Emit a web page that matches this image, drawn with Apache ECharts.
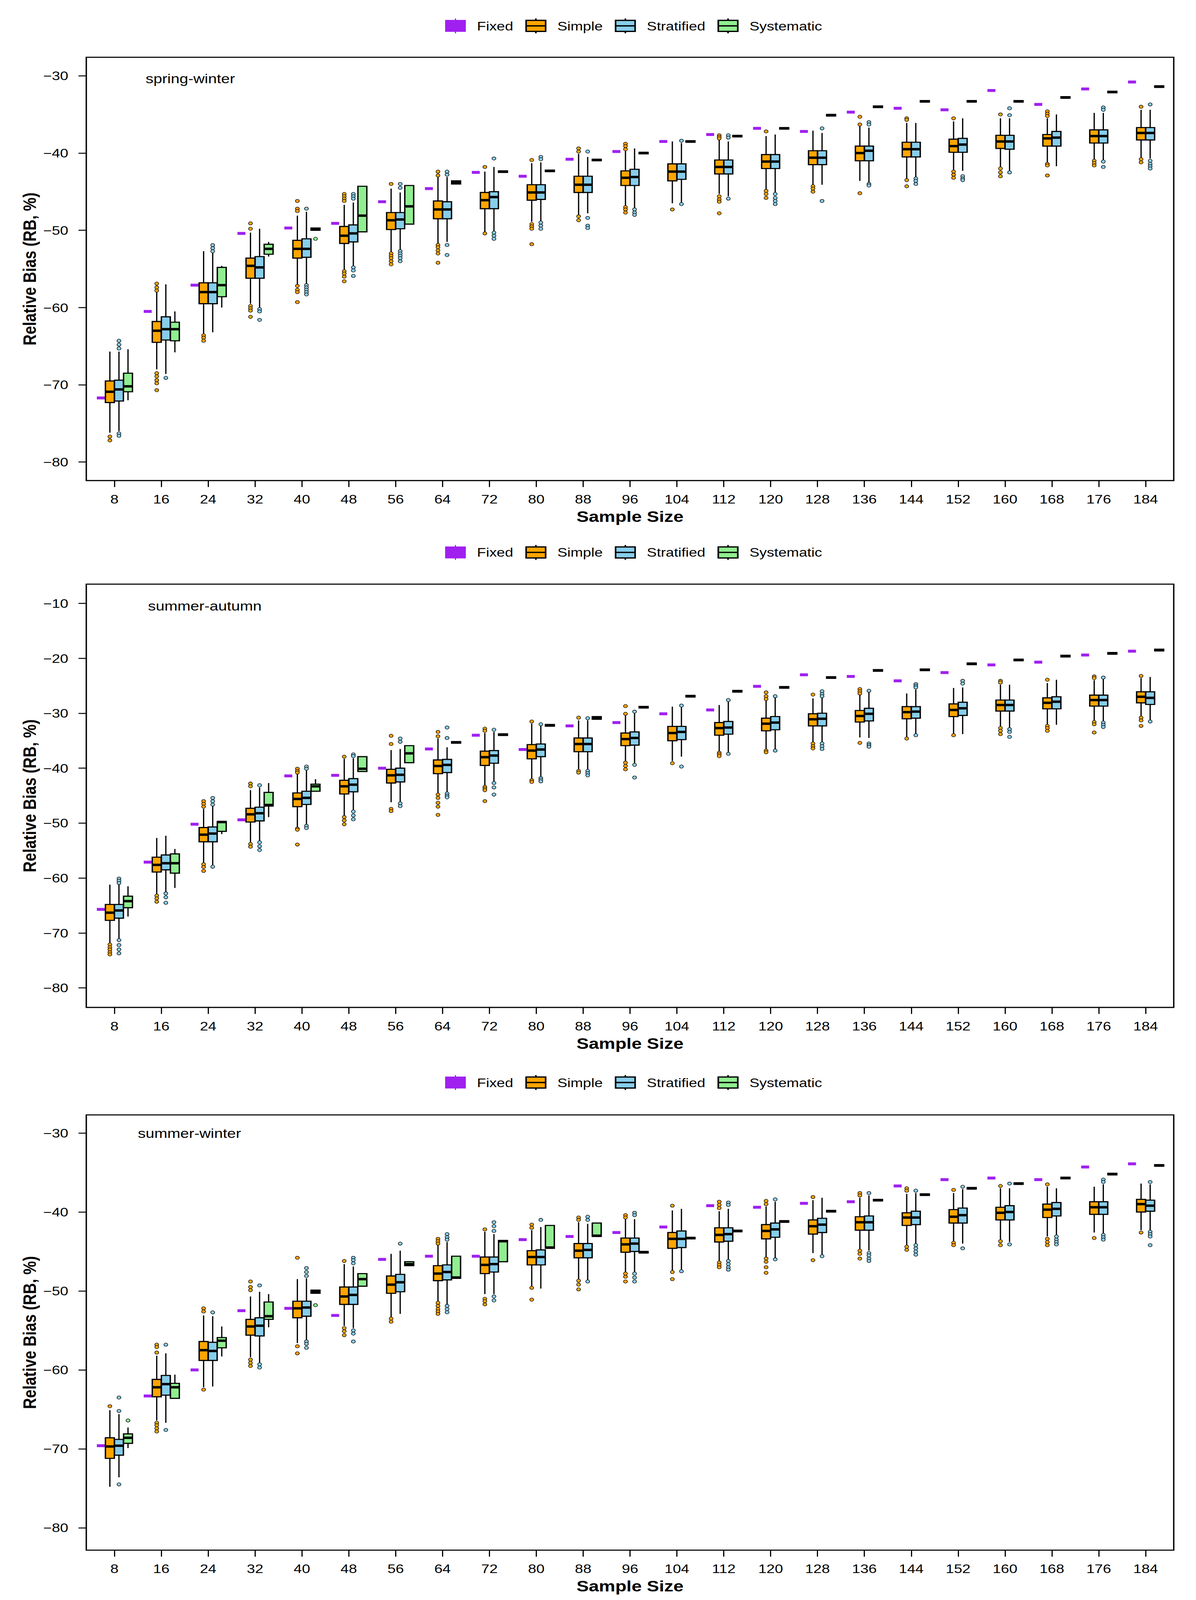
<!DOCTYPE html>
<html>
<head>
<meta charset="utf-8">
<title>Relative Bias by Sample Size</title>
<script src="https://cdn.jsdelivr.net/npm/echarts@6.0.0/dist/echarts.min.js"></script>
<style>
  html, body { margin: 0; padding: 0; background: #fff; overflow: hidden; }
  #chart { width: 3063px; height: 4944px; transform-origin: 0 0; }
</style>
</head>
<body>
<div id="chart"></div>
<script>
// categories and tick labels
const sampleSizes = [8, 16, 24, 32, 40, 48, 56, 64, 72, 80, 88, 96, 104, 112, 120, 128, 136, 144, 152, 160, 168, 176, 184];
const methods = ['Fixed', 'Simple', 'Stratified', 'Systematic'];
const panelNames = ['spring-winter', 'summer-autumn', 'summer-winter'];
const yTicksA = [-80, -70, -60, -50, -40, -30];
const yTicksB = [-80, -70, -60, -50, -40, -30, -20, -10];

// ---- panel 1: spring-winter ----  box rows are [min, q1, median, q3, max]
const p1Fixed = [-71.7, -60.5, -57.1, -50.4, -49.7, -49.1, -46.3, -44.6, -42.5, -43.0, -40.8, -39.8, -38.5, -37.6, -36.8, -37.2, -34.7, -34.2, -34.4, -31.9, -33.7, -31.7, -30.8];
const p1Simple = [
  [-76.2, -72.3, -70.9, -69.5, -65.7], [-68.0, -64.5, -63.0, -61.8, -58.0], [-63.4, -59.5, -58.0, -56.8, -52.7],
  [-59.5, -56.2, -54.6, -53.6, -50.3], [-57.0, -53.6, -52.4, -51.3, -48.1], [-55.1, -51.7, -50.7, -49.5, -46.7],
  [-52.9, -49.9, -48.7, -47.7, -44.6], [-51.7, -48.5, -47.3, -46.2, -43.1], [-50.2, -47.2, -46.1, -45.1, -42.4],
  [-48.9, -46.1, -45.1, -44.1, -41.3], [-48.0, -45.1, -44.1, -43.0, -40.1], [-46.8, -44.2, -43.2, -42.3, -39.6],
  [-46.5, -43.6, -42.4, -41.4, -38.5], [-45.3, -42.7, -41.8, -40.9, -38.2], [-44.7, -42.0, -41.1, -40.2, -37.8],
  [-44.2, -41.5, -40.6, -39.7, -37.1], [-43.6, -41.0, -40.0, -39.1, -36.5], [-43.3, -40.5, -39.5, -38.6, -36.1],
  [-42.2, -39.9, -39.1, -38.2, -35.9], [-41.8, -39.4, -38.5, -37.7, -35.5], [-41.2, -39.1, -38.1, -37.6, -35.5],
  [-40.9, -38.7, -37.8, -37.0, -34.8], [-40.6, -38.3, -37.4, -36.7, -34.4]
];
const p1Stratified = [
  [-76.0, -72.1, -70.6, -69.4, -65.7], [-68.6, -64.2, -62.8, -61.2, -57.0], [-63.2, -59.5, -58.0, -56.8, -52.9],
  [-60.0, -56.2, -54.8, -53.4, -49.8], [-56.9, -53.5, -52.4, -51.1, -47.6], [-54.6, -51.5, -50.4, -49.3, -46.4],
  [-52.5, -49.8, -48.6, -47.7, -45.1], [-51.5, -48.5, -47.3, -46.3, -43.1], [-50.1, -47.2, -45.7, -45.0, -41.8],
  [-48.8, -46.0, -45.1, -44.1, -41.2], [-47.8, -45.1, -44.1, -43.0, -40.5], [-47.1, -44.2, -43.1, -42.1, -39.4],
  [-46.4, -43.4, -42.4, -41.4, -38.7], [-45.6, -42.7, -41.8, -40.9, -38.5], [-45.1, -42.0, -41.1, -40.2, -37.6],
  [-44.1, -41.5, -40.6, -39.7, -37.4], [-43.8, -41.0, -39.7, -39.1, -36.7], [-43.1, -40.5, -39.5, -38.6, -36.1],
  [-42.3, -39.9, -38.9, -38.1, -35.5], [-42.3, -39.5, -38.5, -37.7, -35.5], [-41.7, -39.1, -38.0, -37.2, -35.0],
  [-40.9, -38.7, -37.8, -37.0, -34.8], [-40.7, -38.3, -37.4, -36.7, -34.4]
];
const p1Systematic = [
  [-72.0, -70.9, -70.2, -68.5, -65.4], [-65.8, -64.3, -62.8, -61.9, -60.5], [-60.0, -58.6, -57.1, -54.8, -54.6],
  [-53.4, -53.1, -52.4, -51.8, -51.5], [-50.0, -50.0, -49.85, -49.7, -49.7], [-50.2, -50.2, -48.1, -44.3, -44.3],
  [-49.2, -49.2, -46.9, -44.2, -44.2], [-44.0, -44.0, -43.8, -43.6, -43.6], [-42.5, -42.5, -42.4, -42.3, -42.3],
  [-42.4, -42.4, -42.3, -42.2, -42.2], [-41.0, -41.0, -40.9, -40.8, -40.8], [-40.1, -40.1, -40.0, -39.9, -39.9],
  [-38.6, -38.6, -38.5, -38.4, -38.4], [-37.9, -37.9, -37.8, -37.7, -37.7], [-36.9, -36.9, -36.8, -36.7, -36.7],
  [-35.2, -35.2, -35.1, -35.0, -35.0], [-34.1, -34.1, -34.0, -33.9, -33.9], [-33.4, -33.4, -33.3, -33.2, -33.2],
  [-33.4, -33.4, -33.3, -33.2, -33.2], [-33.4, -33.4, -33.3, -33.2, -33.2], [-32.9, -32.9, -32.8, -32.7, -32.7],
  [-32.2, -32.2, -32.1, -32.0, -32.0], [-31.5, -31.5, -31.4, -31.3, -31.3]
];
const p1SimpleOut = [
  [8, -76.7], [8, -77.2], [16, -56.9], [16, -57.4], [16, -57.8], [16, -68.5], [16, -68.9], [16, -69.4], [16, -69.8], [16, -70.7],
  [24, -63.6], [24, -63.9], [24, -64.3], [32, -49.1], [32, -49.8], [32, -59.8], [32, -60.1], [32, -60.4], [32, -61.2],
  [40, -46.2], [40, -47.2], [40, -47.5], [40, -57.2], [40, -57.7], [40, -58.0], [40, -59.3],
  [48, -45.3], [48, -45.6], [48, -45.9], [48, -46.2], [48, -55.3], [48, -55.6], [48, -56.0], [48, -56.6],
  [56, -44.0], [56, -53.0], [56, -53.3], [56, -53.6], [56, -54.0], [56, -54.4],
  [64, -42.4], [64, -42.9], [64, -51.9], [64, -52.2], [64, -52.6], [64, -53.0], [64, -54.2],
  [72, -41.8], [72, -50.4], [80, -40.9], [80, -49.2], [80, -49.5], [80, -49.8], [80, -51.8],
  [88, -39.4], [88, -39.8], [88, -48.2], [88, -48.7], [96, -38.8], [96, -39.1], [96, -39.5], [96, -47.0], [96, -47.3], [96, -47.7],
  [104, -47.3], [112, -37.7], [112, -37.9], [112, -38.1], [112, -45.6], [112, -46.0], [112, -46.3], [112, -47.8],
  [120, -37.2], [120, -44.9], [120, -45.3], [120, -45.8], [128, -44.3], [128, -44.6], [128, -45.0],
  [136, -35.3], [136, -36.3], [136, -45.2], [144, -35.5], [144, -35.7], [144, -43.5], [144, -44.3],
  [152, -35.5], [152, -42.4], [152, -42.8], [152, -43.2], [160, -35.0], [160, -42.0], [160, -42.5], [160, -43.0],
  [168, -34.6], [168, -34.9], [168, -35.2], [168, -41.4], [168, -41.6], [168, -42.9],
  [176, -41.0], [176, -41.3], [176, -41.6], [184, -34.0], [184, -40.8], [184, -41.2]
];
const p1StratifiedOut = [
  [8, -64.3], [8, -64.8], [8, -65.3], [8, -76.3], [8, -76.6], [16, -69.1], [24, -51.9], [24, -52.3], [24, -52.7],
  [32, -60.2], [32, -60.5], [32, -61.6], [40, -47.2], [40, -57.1], [40, -57.4], [40, -57.7], [40, -58.0], [40, -58.3],
  [48, -45.3], [48, -45.6], [48, -45.9], [48, -54.8], [48, -55.2], [48, -55.9],
  [56, -44.0], [56, -44.5], [56, -52.7], [56, -53.0], [56, -53.3], [56, -53.6], [56, -54.0],
  [64, -42.4], [64, -42.8], [64, -51.9], [64, -53.2], [72, -40.7], [72, -50.3], [72, -50.7], [72, -51.1],
  [80, -40.5], [80, -40.8], [80, -49.0], [80, -49.4], [80, -49.8], [88, -39.8], [88, -48.4], [88, -49.4], [88, -49.7],
  [96, -47.3], [96, -47.7], [96, -48.0], [104, -38.4], [104, -46.6], [112, -37.7], [112, -38.0], [112, -45.9],
  [120, -45.3], [120, -45.8], [120, -46.2], [120, -46.6], [128, -36.8], [128, -46.2],
  [136, -36.0], [136, -36.3], [136, -44.0], [136, -44.2], [144, -43.3], [144, -43.6], [144, -44.0],
  [152, -43.0], [152, -43.3], [152, -43.5], [160, -34.2], [160, -35.1], [160, -42.5],
  [176, -34.1], [176, -34.4], [176, -41.1], [176, -41.8], [184, -33.7], [184, -41.0], [184, -41.4], [184, -41.7], [184, -42.0]
];
const p1SystematicOut = [[40, -51.1]];

// ---- panel 2: summer-autumn ----
const p2Fixed = [-65.7, -57.1, -50.2, -49.4, -41.4, -41.3, -40.0, -36.5, -34.0, -36.6, -32.3, -31.7, -30.1, -29.4, -25.1, -23.0, -23.3, -24.1, -22.6, -21.2, -20.7, -19.4, -18.7];
const p2Simple = [
  [-71.8, -67.7, -66.3, -64.8, -61.2], [-62.9, -58.9, -57.6, -56.2, -52.7], [-57.2, -53.4, -52.1, -50.8, -47.4],
  [-53.5, -49.8, -48.4, -47.3, -44.0], [-50.7, -47.0, -45.6, -44.5, -41.1], [-48.6, -44.7, -43.3, -42.2, -38.3],
  [-46.2, -42.7, -41.3, -40.2, -36.7], [-44.5, -41.0, -39.6, -38.5, -34.6], [-43.1, -39.5, -38.0, -36.9, -33.6],
  [-42.0, -38.3, -36.8, -35.7, -31.9], [-40.2, -37.0, -35.6, -34.5, -31.3], [-38.8, -35.9, -34.7, -33.6, -30.4],
  [-38.7, -35.0, -33.6, -32.4, -28.8], [-37.0, -34.0, -32.7, -31.7, -28.5], [-36.6, -33.2, -31.9, -30.9, -27.7],
  [-35.3, -32.3, -31.1, -30.1, -27.3], [-34.4, -31.6, -30.5, -29.5, -26.6], [-34.3, -31.0, -29.8, -28.8, -26.4],
  [-33.8, -30.6, -29.4, -28.3, -25.4], [-32.4, -29.6, -28.5, -27.6, -24.8], [-32.1, -29.2, -28.1, -27.2, -24.5],
  [-31.3, -28.7, -27.6, -26.7, -24.0], [-30.6, -28.1, -27.0, -26.1, -23.6]
];
const p2Stratified = [
  [-71.0, -67.3, -65.9, -64.8, -61.1], [-62.6, -58.5, -57.3, -55.8, -52.3], [-57.6, -53.4, -51.9, -50.7, -46.9],
  [-53.3, -49.6, -48.2, -47.1, -43.5], [-50.3, -46.6, -45.4, -44.2, -40.4], [-47.7, -44.3, -43.0, -41.9, -38.2],
  [-46.2, -42.5, -41.2, -40.0, -36.5], [-44.4, -40.8, -39.4, -38.4, -36.2], [-42.5, -39.1, -37.7, -36.8, -33.4],
  [-41.6, -37.9, -36.6, -35.6, -32.3], [-40.2, -37.0, -35.6, -34.5, -31.3], [-39.2, -35.8, -34.5, -33.4, -30.0],
  [-37.9, -34.8, -33.4, -32.4, -28.9], [-37.1, -33.8, -32.6, -31.5, -27.9], [-36.6, -33.0, -31.7, -30.6, -27.2],
  [-35.3, -32.3, -31.0, -30.0, -27.1], [-34.5, -31.4, -30.1, -29.1, -26.1], [-33.8, -30.9, -29.7, -28.8, -25.7],
  [-33.8, -30.4, -29.1, -28.0, -25.3], [-32.6, -29.6, -28.5, -27.6, -24.8], [-32.1, -29.2, -27.9, -27.0, -23.9],
  [-31.5, -28.7, -27.6, -26.7, -23.8], [-31.3, -28.4, -27.2, -26.1, -23.4]
];
const p2Systematic = [
  [-67.0, -65.4, -64.2, -63.3, -61.5], [-61.8, -59.1, -57.3, -55.6, -54.7], [-52.0, -51.5, -49.8, -49.7, -49.7],
  [-48.9, -46.9, -46.7, -44.4, -42.7], [-44.2, -44.2, -43.3, -42.9, -42.0], [-40.6, -40.6, -40.1, -37.9, -37.9],
  [-39.0, -39.0, -37.3, -35.9, -35.9], [-35.45, -35.45, -35.3, -35.15, -35.15], [-34.05, -34.05, -33.9, -33.75, -33.75],
  [-32.35, -32.35, -32.2, -32.05, -32.05], [-31.1, -31.1, -30.9, -30.6, -30.6], [-29.05, -29.05, -28.9, -28.75, -28.75],
  [-27.05, -27.05, -26.9, -26.75, -26.75], [-26.15, -26.15, -26.0, -25.85, -25.85], [-25.45, -25.45, -25.3, -25.15, -25.15],
  [-23.65, -23.65, -23.5, -23.35, -23.35], [-22.35, -22.35, -22.2, -22.05, -22.05], [-22.25, -22.25, -22.1, -21.95, -21.95],
  [-21.15, -21.15, -21.0, -20.85, -20.85], [-20.45, -20.45, -20.3, -20.15, -20.15], [-19.75, -19.75, -19.6, -19.45, -19.45],
  [-19.25, -19.25, -19.1, -18.95, -18.95], [-18.65, -18.65, -18.5, -18.35, -18.35]
];
const p2SimpleOut = [
  [8, -72.1], [8, -72.6], [8, -73.0], [8, -73.5], [8, -73.9], [16, -63.2], [16, -63.7], [16, -64.3],
  [24, -46.0], [24, -46.5], [24, -47.0], [24, -57.5], [24, -58.0], [24, -58.7], [32, -42.8], [32, -43.3], [32, -53.8], [32, -54.3],
  [40, -40.1], [40, -40.5], [40, -40.8], [40, -51.0], [40, -51.2], [40, -53.9], [48, -37.9], [48, -48.9], [48, -49.5], [48, -50.2],
  [56, -34.1], [56, -35.6], [56, -47.4], [56, -47.8], [64, -33.4], [64, -34.2], [64, -44.8], [64, -45.4], [64, -46.3], [64, -47.0], [64, -48.5],
  [72, -32.8], [72, -33.2], [72, -43.4], [72, -43.7], [72, -44.0], [72, -46.0], [80, -31.5], [80, -42.2], [80, -42.5],
  [88, -30.8], [88, -40.5], [88, -40.8], [96, -28.7], [96, -30.1], [96, -39.0], [96, -39.6], [96, -40.2], [104, -39.1],
  [112, -37.2], [112, -37.5], [112, -37.8], [120, -26.2], [120, -26.9], [120, -27.4], [120, -36.8], [120, -37.1],
  [128, -26.6], [128, -35.5], [128, -36.0], [128, -36.4], [136, -25.6], [136, -26.0], [136, -26.4], [136, -35.4],
  [144, -34.6], [152, -34.0], [160, -24.1], [160, -24.4], [160, -32.7], [160, -33.2], [160, -33.8],
  [168, -23.9], [168, -32.3], [168, -32.7], [168, -33.2], [176, -23.3], [176, -23.6], [176, -31.6], [176, -32.0], [176, -33.5],
  [184, -23.2], [184, -30.8], [184, -31.3], [184, -32.3]
];
const p2StratifiedOut = [
  [8, -60.1], [8, -60.5], [8, -60.9], [8, -71.3], [8, -72.2], [8, -73.0], [8, -73.7], [16, -62.8], [16, -63.5], [16, -64.5],
  [24, -45.4], [24, -46.0], [24, -46.6], [24, -57.9], [32, -43.1], [32, -53.5], [32, -54.2], [32, -54.9],
  [40, -39.7], [40, -40.1], [40, -50.5], [40, -50.9], [48, -37.5], [48, -37.8], [48, -47.9], [48, -48.6], [48, -49.3],
  [56, -34.6], [56, -35.2], [56, -46.4], [56, -46.9], [64, -32.6], [64, -34.5], [64, -44.6], [64, -45.0], [64, -45.3],
  [72, -33.0], [72, -42.7], [72, -43.5], [72, -44.8], [80, -32.0], [80, -41.8], [80, -42.1], [80, -42.4],
  [88, -30.9], [88, -40.5], [88, -40.9], [88, -41.3], [96, -29.7], [96, -39.4], [96, -41.7], [104, -28.6], [104, -39.7],
  [112, -27.6], [112, -37.4], [120, -26.9], [120, -36.8], [128, -26.0], [128, -26.5], [128, -26.9], [128, -35.5], [128, -36.0], [128, -36.5],
  [136, -25.9], [136, -35.5], [136, -35.8], [136, -36.1], [144, -24.7], [144, -25.0], [144, -25.3], [144, -34.0],
  [152, -24.1], [152, -24.6], [160, -32.9], [160, -33.4], [160, -34.3], [176, -23.5], [176, -31.7], [176, -32.1], [176, -32.5], [184, -31.5]
];
const p2SystematicOut = [];

// ---- panel 3: summer-winter ----
const p3Fixed = [-69.6, -63.3, -60.0, -52.5, -52.2, -53.1, -46.0, -45.6, -45.6, -43.5, -43.1, -42.6, -41.9, -39.2, -39.4, -38.9, -38.7, -36.7, -35.9, -35.7, -35.9, -34.3, -33.9];
const p3Simple = [
  [-74.8, -71.2, -69.7, -68.6, -65.1], [-66.4, -63.4, -62.2, -61.2, -58.2], [-62.2, -58.8, -57.5, -56.4, -53.1],
  [-58.4, -55.6, -54.5, -53.6, -50.7], [-56.6, -53.4, -52.2, -51.3, -48.5], [-54.4, -51.7, -50.7, -49.5, -46.6],
  [-53.3, -50.3, -49.2, -48.1, -45.3], [-51.3, -48.7, -47.8, -46.8, -44.2], [-50.4, -47.8, -46.7, -45.7, -42.5],
  [-49.4, -46.7, -45.7, -44.9, -42.3], [-48.5, -45.8, -44.9, -44.0, -41.3], [-47.6, -45.1, -44.1, -43.3, -40.9],
  [-47.4, -44.6, -43.4, -42.6, -39.8], [-46.2, -43.8, -42.9, -42.0, -39.9], [-45.7, -43.4, -42.4, -41.6, -39.3],
  [-45.2, -42.8, -41.8, -41.0, -38.5], [-44.7, -42.3, -41.3, -40.6, -38.2], [-44.2, -41.7, -40.7, -40.1, -37.7],
  [-43.7, -41.4, -40.6, -39.7, -37.6], [-43.5, -41.0, -40.1, -39.4, -37.0], [-43.1, -40.7, -39.7, -39.0, -36.8],
  [-42.6, -40.3, -39.4, -38.7, -36.8], [-42.3, -40.0, -39.0, -38.4, -36.4]
];
const p3Stratified = [
  [-73.6, -70.8, -69.6, -68.8, -65.6], [-66.7, -63.2, -61.8, -60.7, -57.9], [-62.1, -58.8, -57.6, -56.5, -53.2],
  [-59.1, -55.7, -54.4, -53.4, -50.1], [-56.2, -53.2, -52.1, -51.3, -48.4], [-54.7, -51.7, -50.5, -49.5, -46.9],
  [-52.9, -50.1, -48.9, -47.9, -44.9], [-51.7, -48.6, -47.6, -46.7, -43.8], [-50.4, -47.6, -46.6, -45.7, -42.8],
  [-49.7, -46.7, -45.7, -44.8, -41.9], [-48.6, -45.8, -44.8, -44.0, -41.5], [-47.6, -45.0, -44.0, -43.3, -40.9],
  [-47.3, -44.5, -43.4, -42.4, -39.6], [-46.0, -43.7, -42.8, -42.0, -39.6], [-45.8, -43.2, -42.2, -41.4, -38.7],
  [-45.4, -42.6, -41.6, -40.8, -38.2], [-44.9, -42.3, -41.3, -40.5, -37.9], [-44.0, -41.6, -40.7, -39.9, -37.6],
  [-44.0, -41.4, -40.4, -39.5, -37.1], [-43.8, -41.0, -40.0, -39.2, -37.0], [-42.9, -40.5, -39.6, -38.8, -37.0],
  [-42.7, -40.3, -39.4, -38.7, -36.5], [-42.3, -39.9, -39.2, -38.5, -36.5]
];
const p3Systematic = [
  [-69.9, -69.3, -68.6, -68.1, -67.3], [-63.6, -63.6, -62.2, -61.7, -60.6], [-58.3, -57.2, -56.3, -55.9, -54.5],
  [-54.6, -53.6, -53.2, -51.4, -50.4], [-50.3, -50.3, -50.1, -49.9, -49.9], [-49.4, -49.4, -48.5, -47.8, -47.8],
  [-46.8, -46.8, -46.6, -46.3, -46.3], [-48.4, -48.4, -48.3, -45.6, -45.6], [-46.3, -46.3, -43.7, -43.6, -43.6],
  [-44.6, -44.6, -44.5, -41.7, -41.7], [-43.1, -43.1, -43.0, -41.4, -41.4], [-45.2, -45.2, -45.1, -45.0, -45.0],
  [-43.4, -43.4, -43.3, -43.2, -43.2], [-42.5, -42.5, -42.4, -42.3, -42.3], [-41.3, -41.3, -41.2, -41.1, -41.1],
  [-40.0, -40.0, -39.9, -39.8, -39.8], [-38.6, -38.6, -38.5, -38.4, -38.4], [-37.9, -37.9, -37.8, -37.7, -37.7],
  [-37.1, -37.1, -37.0, -36.9, -36.9], [-36.5, -36.5, -36.4, -36.3, -36.3], [-35.8, -35.8, -35.7, -35.6, -35.6],
  [-35.3, -35.3, -35.2, -35.1, -35.1], [-34.2, -34.2, -34.1, -34.0, -34.0]
];
const p3SimpleOut = [
  [8, -64.6], [16, -56.8], [16, -57.1], [16, -57.8], [16, -66.7], [16, -67.0], [16, -67.4], [16, -67.8],
  [24, -52.2], [24, -52.6], [24, -62.5], [32, -48.8], [32, -49.5], [32, -49.9], [32, -58.7], [32, -59.1], [32, -59.5],
  [40, -45.8], [40, -57.0], [40, -57.9], [48, -46.2], [48, -54.7], [48, -55.1], [48, -55.6], [56, -53.5], [56, -53.9],
  [64, -43.4], [64, -43.7], [64, -44.0], [64, -51.5], [64, -51.9], [64, -52.3], [64, -52.6], [64, -52.9],
  [72, -42.2], [72, -51.0], [72, -51.3], [72, -51.7], [80, -41.6], [80, -42.0], [80, -49.6], [80, -51.1],
  [88, -40.7], [88, -41.0], [88, -48.7], [88, -49.2], [88, -49.8], [96, -40.4], [96, -40.7], [96, -47.8], [96, -48.2], [96, -48.8],
  [104, -39.2], [104, -47.6], [104, -48.5], [112, -38.7], [112, -39.1], [112, -39.5], [112, -46.4], [112, -46.7], [112, -47.0],
  [120, -38.6], [120, -39.0], [120, -45.9], [120, -46.3], [120, -47.0], [120, -47.7], [128, -38.1], [128, -46.1],
  [136, -37.6], [136, -37.9], [136, -44.9], [136, -45.3], [136, -45.9], [144, -37.0], [144, -37.3], [144, -44.4], [144, -44.8],
  [152, -37.2], [152, -43.9], [152, -44.2], [160, -36.7], [160, -43.7], [160, -44.2],
  [168, -36.5], [168, -43.4], [168, -43.8], [168, -44.2], [176, -43.3], [184, -42.6]
];
const p3StratifiedOut = [
  [8, -63.5], [8, -65.2], [8, -74.5], [16, -56.8], [16, -67.6], [24, -52.7], [32, -49.3], [32, -59.3], [32, -59.7],
  [40, -47.1], [40, -47.6], [40, -48.1], [40, -56.4], [40, -56.7], [40, -57.2],
  [48, -45.8], [48, -46.1], [48, -46.5], [48, -55.0], [48, -55.4], [48, -56.4], [56, -44.0],
  [64, -42.8], [64, -43.2], [64, -43.5], [64, -51.9], [64, -52.3], [64, -52.7],
  [72, -41.3], [72, -41.8], [72, -42.4], [72, -50.7], [72, -51.2], [80, -41.0], [88, -40.6], [88, -41.0], [88, -48.8],
  [96, -40.1], [96, -40.4], [96, -47.8], [96, -48.3], [96, -48.8], [104, -47.5],
  [112, -38.8], [112, -39.1], [112, -46.2], [112, -46.6], [112, -47.0], [112, -47.3], [120, -38.4], [120, -46.0], [128, -45.6],
  [136, -37.6], [136, -45.2], [136, -45.5], [136, -45.9], [136, -46.2], [144, -37.3], [144, -44.2], [144, -44.6], [144, -45.0], [144, -45.4],
  [152, -36.8], [152, -44.6], [160, -36.4], [160, -44.1], [168, -43.1], [168, -43.5], [168, -43.8], [168, -44.1],
  [176, -35.9], [176, -36.2], [176, -42.9], [176, -43.2], [176, -43.5], [184, -36.2], [184, -42.5], [184, -42.8], [184, -43.1], [184, -44.2]
];
const p3SystematicOut = [[8, -66.4], [40, -51.8]];

// ---- styling ----
const FONT = '"Liberation Sans", Arial, sans-serif';
const colors = { Fixed: '#A020F0', Simple: '#FFA500', Stratified: '#87CEEB', Systematic: '#90EE90' };
// position of each method inside one sample-size band (fraction of band)
const offsets = { Fixed: -0.29, Simple: -0.097, Stratified: 0.097, Systematic: 0.29 };
const BOX_W = 0.19;
const FIXED_W = 0.17;
const STEP = 8;
const LEGEND_ICON = 'path://M0,6L50,6L50,40L0,40ZM0,23L50,23M25,0L25,6M25,40L25,46';

function bandPx(api) {
  return api.size([STEP, 0])[0];
}

function renderBox(name) {
  return function (params, api) {
    const s = api.value(0);
    const band = bandPx(api);
    const cx = api.coord([s, api.value(3)])[0] + offsets[name] * band;
    const hw = band * BOX_W / 2;
    const py = i => api.coord([s, api.value(i)])[1];
    const yMin = py(1), yQ1 = py(2), yMed = py(3), yQ3 = py(4), yMax = py(5);
    const seg = (x1, y1, x2, y2, w) => ({
      type: 'line', shape: { x1, y1, x2, y2 }, style: { stroke: '#000', lineWidth: w }
    });
    return {
      type: 'group',
      children: [
        seg(cx, yMax, cx, yQ3, 3.2),
        seg(cx, yQ1, cx, yMin, 3.2),
        {
          type: 'rect',
          shape: { x: cx - hw, y: yQ3, width: hw * 2, height: yQ1 - yQ3 },
          style: { fill: colors[name], stroke: '#000', lineWidth: 3.5 }
        },
        seg(cx - hw, yMed, cx + hw, yMed, 7.5)
      ]
    };
  };
}

function renderFixed(params, api) {
  const band = bandPx(api);
  const p = api.coord([api.value(0), api.value(1)]);
  const w = band * FIXED_W;
  return {
    type: 'rect',
    shape: { x: p[0] + offsets.Fixed * band - w / 2, y: p[1] - 4.5, width: w, height: 9 },
    style: { fill: colors.Fixed }
  };
}

function renderOutlier(name) {
  return function (params, api) {
    const band = bandPx(api);
    const p = api.coord([api.value(0), api.value(1)]);
    return {
      type: 'circle',
      shape: { cx: p[0] + offsets[name] * band, cy: p[1], r: 5 },
      style: { fill: colors[name], stroke: '#000', lineWidth: 1.5 }
    };
  };
}

function boxRows(arr) {
  return sampleSizes.map((s, i) => [s].concat(arr[i]));
}

function panelSeries(idx, fixed, boxes, outs) {
  const list = [{
    type: 'custom', name: 'Fixed', xAxisIndex: idx, yAxisIndex: idx,
    itemStyle: { color: colors.Fixed },
    encode: { x: 0, y: 1 },
    data: sampleSizes.map((s, i) => [s, fixed[i]]),
    renderItem: renderFixed
  }];
  ['Simple', 'Stratified', 'Systematic'].forEach((m, k) => {
    list.push({
      type: 'custom', name: m, xAxisIndex: idx, yAxisIndex: idx,
      itemStyle: { color: colors[m] },
      encode: { x: 0, y: [1, 2, 3, 4, 5] },
      data: boxRows(boxes[k]),
      renderItem: renderBox(m)
    });
    list.push({
      type: 'custom', name: m, xAxisIndex: idx, yAxisIndex: idx,
      itemStyle: { color: colors[m] },
      encode: { x: 0, y: 1 },
      data: outs[k],
      renderItem: renderOutlier(m)
    });
  });
  return list;
}

const panels = [
  { top: 177, height: 1308, min: -82.4, max: -27.6, ticks: yTicksA, legendTop: 50, label: [373, 244] },
  { top: 1805, height: 1308, min: -83.55, max: -6.5, ticks: yTicksB, legendTop: 1677, label: [379, 1873] },
  { top: 3445, height: 1345, min: -82.83, max: -27.7, ticks: yTicksA, legendTop: 3315, label: [353, 3502] }
];

const tickStyle = { color: '#000', width: 3 };
const labelStyle = { fontSize: 38, fontFamily: FONT, color: '#000' };
const titleStyle = { fontSize: 47, fontWeight: 'bold', fontFamily: FONT, color: '#000' };

const option = {
  backgroundColor: '#fff',
  animation: false,
  grid: panels.map(p => ({
    left: 221, width: 2785, top: p.top, height: p.height,
    show: true, borderColor: '#000', borderWidth: 3.5, backgroundColor: '#fff',
    outerBoundsMode: 'none'
  })),
  xAxis: panels.map((p, i) => ({
    type: 'value', gridIndex: i, min: 3.2, max: 188.8,
    name: 'Sample Size', nameLocation: 'middle', nameGap: 88,
    nameTextStyle: titleStyle,
    axisLine: { show: false },
    axisTick: { show: true, length: 20, lineStyle: tickStyle, customValues: sampleSizes },
    axisLabel: Object.assign({ margin: 38, customValues: sampleSizes }, labelStyle),
    splitLine: { show: false }
  })),
  yAxis: panels.map((p, i) => ({
    type: 'value', gridIndex: i, min: p.min, max: p.max,
    name: 'Relative Bias (RB, %)', nameLocation: 'middle', nameGap: 112, nameRotate: 90,
    nameTextStyle: titleStyle,
    axisLine: { show: false },
    axisTick: { show: true, length: 20, lineStyle: tickStyle, customValues: p.ticks },
    axisLabel: Object.assign({
      margin: 46, customValues: p.ticks,
      formatter: v => String(v).replace('-', '\u2212')
    }, labelStyle),
    splitLine: { show: false }
  })),
  legend: panels.map(p => ({
    top: p.legendTop, left: 1135, orient: 'horizontal',
    itemWidth: 50, itemHeight: 46, itemGap: 31, selectedMode: false,
    textStyle: { fontSize: 38, fontFamily: FONT, color: '#000', padding: [0, 0, 0, 25] },
    data: methods.map(m => ({
      name: m, icon: LEGEND_ICON,
      itemStyle: {
        color: colors[m],
        borderColor: m === 'Fixed' ? colors[m] : '#000',
        borderWidth: m === 'Fixed' ? 3 : 4
      }
    }))
  })),
  graphic: panels.map((p, i) => ({
    type: 'text', x: p.label[0], y: p.label[1], silent: true,
    style: { text: panelNames[i], fontSize: 40, fontFamily: FONT, fill: '#000', verticalAlign: 'middle' }
  })),
  series: [].concat(
    panelSeries(0, p1Fixed, [p1Simple, p1Stratified, p1Systematic], [p1SimpleOut, p1StratifiedOut, p1SystematicOut]),
    panelSeries(1, p2Fixed, [p2Simple, p2Stratified, p2Systematic], [p2SimpleOut, p2StratifiedOut, p2SystematicOut]),
    panelSeries(2, p3Fixed, [p3Simple, p3Stratified, p3Systematic], [p3SimpleOut, p3StratifiedOut, p3SystematicOut])
  )
};

// the figure is laid out at 3063x4944; if the window is smaller, squeeze it to fit
const el = document.getElementById('chart');
const sx = Math.min(1, window.innerWidth / 3063);
const sy = Math.min(1, window.innerHeight / 4944);
el.style.transform = 'scale(' + sx + ',' + sy + ')';

const chart = echarts.init(el, null, { renderer: 'svg' });
chart.setOption(option);
</script>
</body>
</html>
